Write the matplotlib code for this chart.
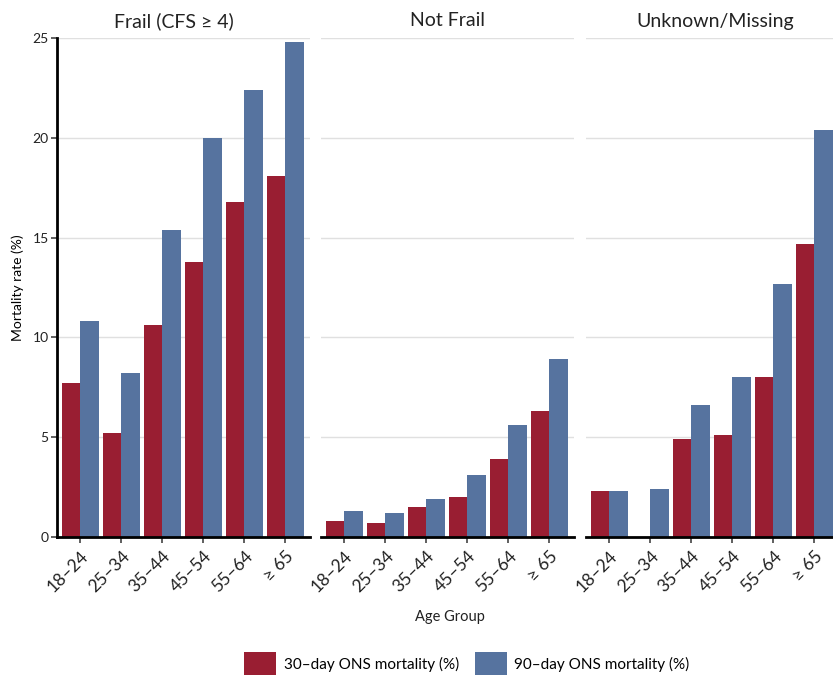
import matplotlib
matplotlib.use("Agg")
import matplotlib.pyplot as plt
from matplotlib.patches import Patch
import numpy as np

plt.rcParams['font.family'] = ['Lato', 'DejaVu Sans']

age_groups = ["18–24", "25–34", "35–44", "45–54", "55–64", "≥ 65"]
panels = ["Frail (CFS ≥ 4)", "Not Frail", "Unknown/Missing"]

mort_30 = {
    "Frail (CFS ≥ 4)": [7.7, 5.2, 10.6, 13.8, 16.8, 18.1],
    "Not Frail": [0.8, 0.7, 1.5, 2.0, 3.9, 6.3],
    "Unknown/Missing": [2.3, 0.0, 4.9, 5.1, 8.0, 14.7],
}
mort_90 = {
    "Frail (CFS ≥ 4)": [10.8, 8.2, 15.4, 20.0, 22.4, 24.8],
    "Not Frail": [1.3, 1.2, 1.9, 3.1, 5.6, 8.9],
    "Unknown/Missing": [2.3, 2.4, 6.6, 8.0, 12.7, 20.4],
}
series_labels = ["30–day ONS mortality (%)", "90–day ONS mortality (%)"]
yticks = [0, 5, 10, 15, 20, 25]

c30 = "#991e32"
c90 = "#56739f"

fig = plt.figure(figsize=(8.33, 6.75), dpi=100)
W, H = 833, 675
bottom_px, top_px = 536.7, 38.3
lefts = [57, 321, 586]
width_px = 253
title_x = [0.462, 0.5, 0.51]

x = np.arange(len(age_groups))
bw = 0.455
for i, name in enumerate(panels):
    ax = fig.add_axes([lefts[i] / W, 1 - bottom_px / H,
                       width_px / W, (bottom_px - top_px) / H])
    ax.bar(x - bw / 2, mort_30[name], width=bw, color=c30, linewidth=0)
    ax.bar(x + bw / 2, mort_90[name], width=bw, color=c90, linewidth=0)
    ax.set_xlim(-0.57, 5.6)
    ax.set_ylim(0, 25)
    ax.set_yticks(yticks)
    ax.yaxis.grid(True, color="#e0e0e0", linewidth=1.0)
    ax.set_axisbelow(True)
    for s in ["top", "right"]:
        ax.spines[s].set_visible(False)
    ax.spines["bottom"].set_linewidth(2.0)
    ax.spines["bottom"].set_color("black")
    ax.set_xticks(x)
    ax.set_xticklabels(age_groups, rotation=45, ha="right",
                       rotation_mode="anchor", fontsize=12.5, color="#222222")
    ax.tick_params(axis="x", length=4, width=1.2, color="#444444", pad=4)
    if i == 0:
        ax.spines["left"].set_linewidth(2.0)
        ax.spines["left"].set_color("black")
        ax.tick_params(axis="y", length=4, width=1.2, color="#444444",
                       labelsize=10, labelcolor="#222222", pad=2)
        ax.set_ylabel("Mortality rate (%)", fontsize=10, labelpad=6)
    else:
        ax.spines["left"].set_visible(False)
        ax.tick_params(axis="y", length=0, labelleft=False)
    ax.text(title_x[i], 1.0 + (top_px - 21) / (bottom_px - top_px), name,
            transform=ax.transAxes, ha="center", va="center",
            fontsize=14, color="#222222")

fig.text(450 / W, 1 - 617 / H, "Age Group", ha="center", va="center",
         fontsize=10.5, color="#222222")

handles = [Patch(facecolor=c30, edgecolor="none"),
           Patch(facecolor=c90, edgecolor="none")]
fig.legend(handles, series_labels, loc="lower center", ncol=2,
           bbox_to_anchor=(467 / W, 0.0), frameon=False, fontsize=11,
           handlelength=2.1, handleheight=1.9, handletextpad=0.5,
           columnspacing=1.0, borderaxespad=0.0, borderpad=0.0)

fig.savefig("out.png", dpi=100)
